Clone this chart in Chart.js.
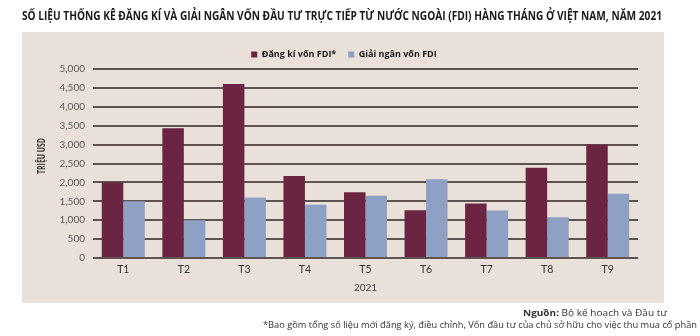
<!DOCTYPE html>
<html>
<head>
<meta charset="utf-8">
<script src="https://cdn.jsdelivr.net/npm/chart.js@4"></script>
<style>
  html, body { margin: 0; background: #fff; }
  canvas { display: block; }
</style>
</head>
<body>
<canvas id="fdi" width="700" height="336"></canvas>
<script>
// data (million USD)
const months = ["T1", "T2", "T3", "T4", "T5", "T6", "T7", "T8", "T9"];
const dangKi = [2000, 3430, 4600, 2170, 1740, 1265, 1440, 2390, 3000];
const giaiNgan = [1500, 1000, 1600, 1410, 1650, 2085, 1257, 1080, 1700];
const seriesNames = ["Đăng kí vốn FDI*", "Giải ngân vốn FDI"];
const yMax = 5000;
const yStep = 500;

const chartTitle = "SỐ LIỆU THỐNG KÊ ĐĂNG KÍ VÀ GIẢI NGÂN VỐN ĐẦU TƯ TRỰC TIẾP TỪ NƯỚC NGOÀI (FDI) HÀNG THÁNG Ở VIỆT NAM, NĂM 2021";
const yTitle = "TRIỆU USD";
const xTitle = "2021";
const sourceLabel = "Nguồn:";
const sourceText = " Bộ kế hoạch và Đầu tư";
const footNote = "*Bao gồm tổng số liệu mới đăng ký, điều chỉnh, Vốn đầu tư của chủ sở hữu cho việc thu mua cổ phần";

const color = {
  maroon: "#6b2441",
  blue: "#8ea1c4",
  panel: "#e8e0d9",
  grid: "#5f5350",
  text: "#2b2b2b",
};

// squeeze a string into a given width (the original uses a narrow font)
function fitText(ctx, text, x, y, w, align) {
  const natural = ctx.measureText(text).width;
  const s = w / natural;
  ctx.save();
  ctx.translate(x, y);
  ctx.scale(s, 1);
  ctx.textAlign = align;
  ctx.fillText(text, 0, 0);
  ctx.restore();
  return natural * s;
}

const decor = {
  id: "decor",
  beforeDraw(chart) {
    const ctx = chart.ctx;
    ctx.save();
    ctx.fillStyle = "#fff";
    ctx.fillRect(0, 0, chart.width, chart.height);
    ctx.fillStyle = color.panel;
    ctx.fillRect(22, 32, 642, 271);
    ctx.restore();
  },
  afterDraw(chart) {
    const ctx = chart.ctx;
    ctx.save();
    ctx.fillStyle = "#1a1a1a";
    ctx.textBaseline = "middle";

    ctx.font = "bold 13px 'Open Sans', sans-serif";
    fitText(ctx, chartTitle, 22, 16, 640, "left");

    // y axis title
    ctx.save();
    ctx.translate(42, 156);
    ctx.rotate(-Math.PI / 2);
    ctx.font = "bold 10px 'Open Sans', sans-serif";
    ctx.fillStyle = "#3a3a3a";
    fitText(ctx, yTitle, 0, 0, 36, "center");
    ctx.restore();

    // source + footnote
    ctx.fillStyle = "#333";
    ctx.font = "9px 'Open Sans', sans-serif";
    const w2 = fitText(ctx, sourceText, 667, 313, 108, "right");
    ctx.font = "bold 9px 'Open Sans', sans-serif";
    fitText(ctx, sourceLabel, 667 - w2, 313, 36, "right");
    ctx.font = "9px 'Open Sans', sans-serif";
    fitText(ctx, footNote, 697, 325, 434, "right");
    ctx.restore();
  }
};

const fdiData = {
  labels: months,
  datasets: [
    { label: seriesNames[0], data: dangKi, backgroundColor: color.maroon },
    { label: seriesNames[1], data: giaiNgan, backgroundColor: color.blue },
  ],
};

const fdiConfig = {
  type: "bar",
  data: fdiData,
  plugins: [decor],
  options: {
    responsive: false,
    animation: false,
    locale: "en-US",
    layout: { padding: { left: 50, right: 62, top: 38, bottom: 38 } },
    datasets: { bar: { categoryPercentage: 0.71, barPercentage: 1 } },
    plugins: {
      title: { display: false },
      tooltip: { enabled: false },
      legend: {
        position: "top",
        labels: {
          boxWidth: 6,
          boxHeight: 6,
          padding: 12,
          color: "#1a1a1a",
          font: { family: "'Open Sans', sans-serif", size: 9, weight: "bold" },
        },
      },
    },
    scales: {
      x: {
        grid: { display: false, drawTicks: false },
        border: { display: false },
        ticks: { color: "#333", padding: 5, font: { family: "Lato, sans-serif", size: 10.5 } },
        title: {
          display: true,
          text: xTitle,
          color: "#444",
          padding: { top: 4, bottom: 4 },
          font: { family: "Lato, sans-serif", size: 10 },
        },
        afterFit(scale) { scale.height = 40; },
      },
      y: {
        min: 0,
        max: yMax,
        grid: { color: color.grid, lineWidth: 2, drawTicks: false },
        border: { display: false },
        ticks: {
          stepSize: yStep,
          padding: 8,
          color: "#5a5a5a",
          font: { family: "Lato, sans-serif", size: 10 },
        },
        afterFit(scale) { scale.width = 43; },
      },
    },
  },
};

const fdiChart = new Chart(document.getElementById("fdi"), fdiConfig);
</script>
</body>
</html>
